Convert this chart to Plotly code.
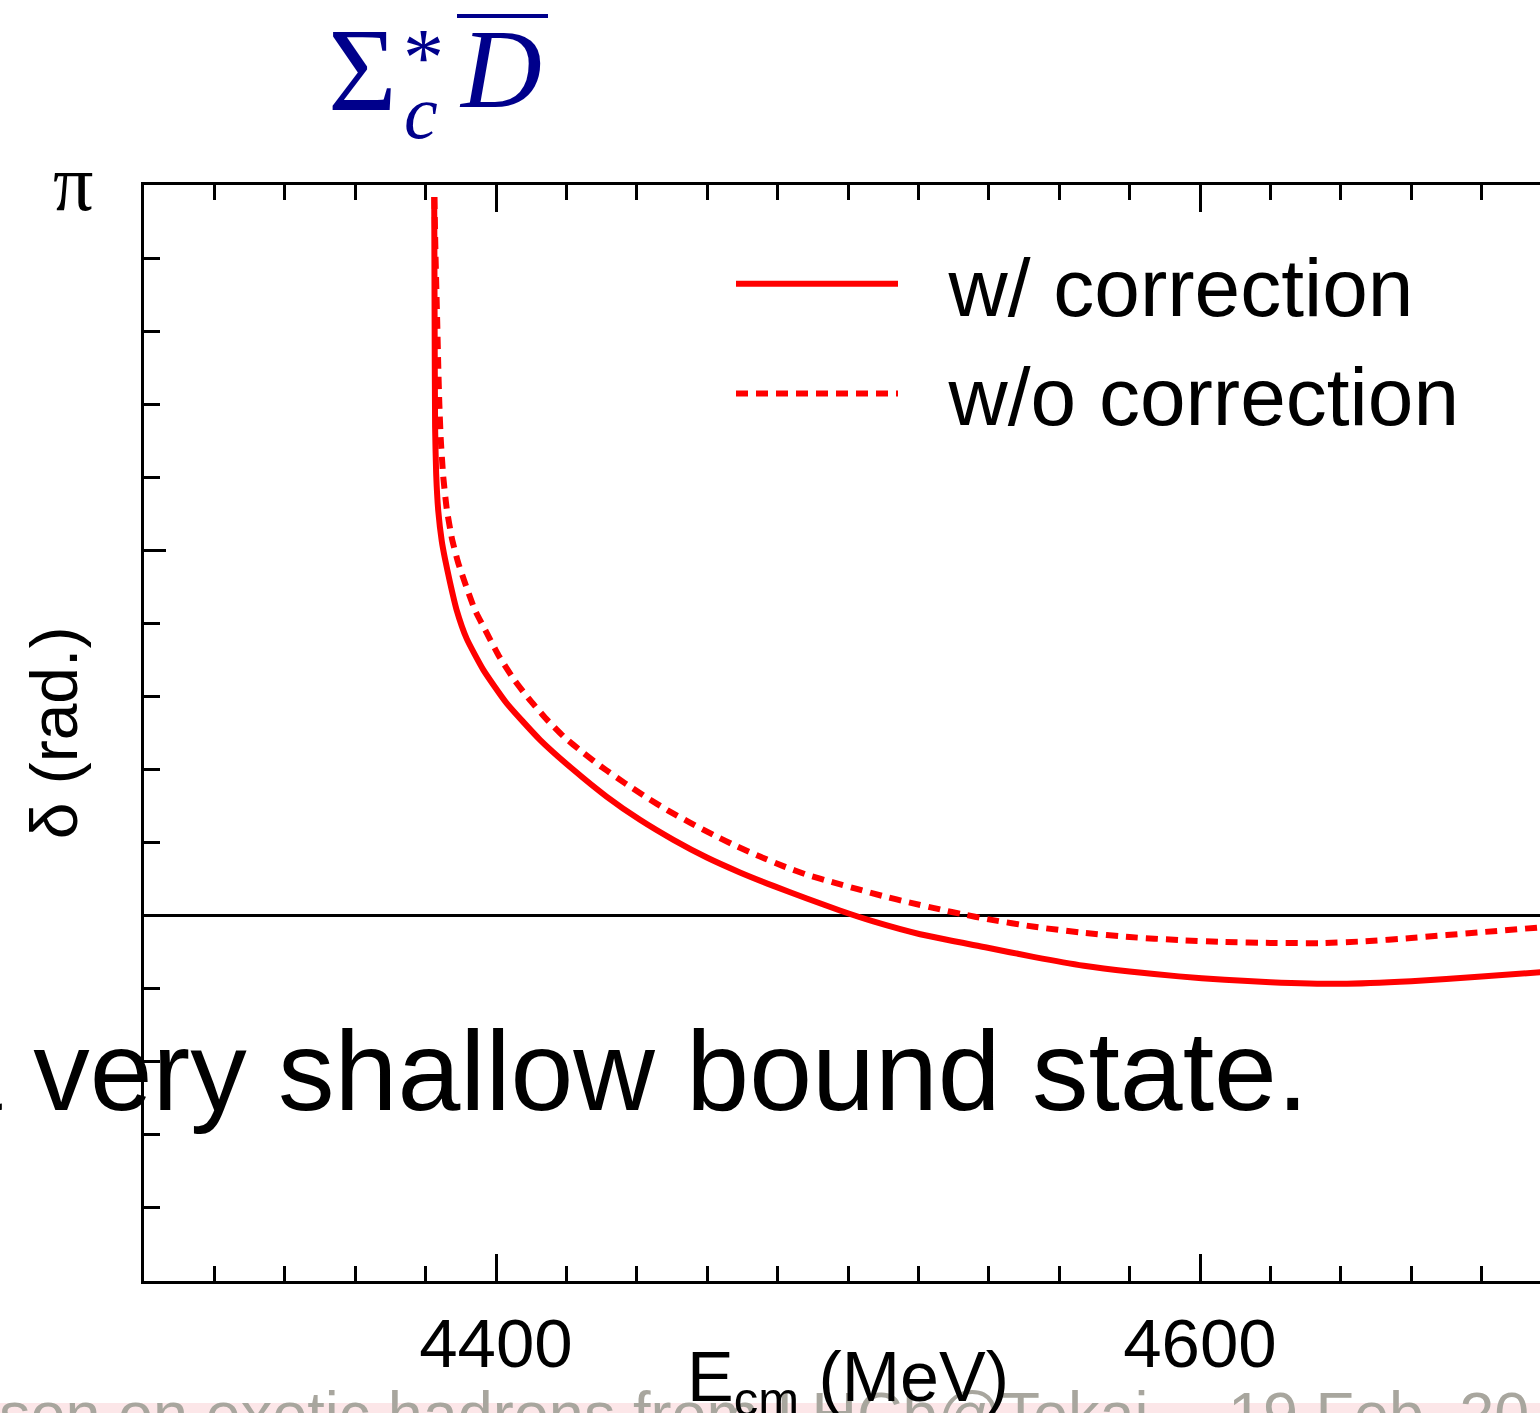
import math
import plotly.graph_objects as go

# ---- data ----
E_with = [4382.45, 4382.55, 4382.7, 4383.0, 4383.6, 4384.6, 4385.5, 4386.9, 4388.8, 4391.7,
          4396.4, 4403.0, 4412.5, 4422.0, 4431.4, 4440.9, 4450.4, 4459.9, 4469.3, 4478.8,
          4488.3, 4497.7, 4507.2, 4520.5, 4539.0, 4553.0, 4567.0, 4580.0, 4594.0, 4607.0,
          4620.0, 4640.0, 4660.0, 4680.0, 4697.0]
delta_with = [3.09, 2.60, 2.10, 1.90, 1.74, 1.61, 1.535, 1.435, 1.315, 1.19,
              1.057, 0.914, 0.756, 0.627, 0.512, 0.412, 0.326, 0.250, 0.186, 0.128,
              0.074, 0.022, -0.025, -0.080, -0.136, -0.178, -0.215, -0.240, -0.261, -0.276,
              -0.286, -0.293, -0.282, -0.262, -0.243]

E_without = [4382.5, 4382.8, 4383.3, 4383.6, 4383.9, 4384.3, 4385.0, 4386.0, 4387.5, 4389.2,
             4391.2, 4394.0, 4397.4, 4400.7, 4404.9, 4409.2, 4413.9, 4419.1, 4424.8, 4430.5,
             4436.6, 4442.8, 4448.9, 4455.1, 4461.7, 4468.4, 4475.0, 4481.6, 4488.3, 4495.8,
             4502.5, 4510.0, 4517.6, 4527.0, 4532.0, 4540.0, 4553.0, 4567.0, 4580.0, 4594.0,
             4607.0, 4620.0, 4634.0, 4647.0, 4660.0, 4680.0, 4697.0]
delta_without = [3.09, 2.85, 2.55, 2.36, 2.20, 2.05, 1.89, 1.75, 1.62, 1.52,
                 1.43, 1.315, 1.215, 1.12, 1.02, 0.935, 0.852, 0.772, 0.700, 0.634,
                 0.570, 0.508, 0.452, 0.400, 0.348, 0.298, 0.254, 0.213, 0.176, 0.143,
                 0.115, 0.084, 0.056, 0.024, 0.008, -0.016, -0.048, -0.074, -0.092, -0.105,
                 -0.113, -0.117, -0.118, -0.110, -0.096, -0.071, -0.050]

series_names = ["w/ correction", "w/o correction"]
x_tickvals = [4400, 4600]
x_ticktext = ["4400", "4600"]
y_tickvals = [0, math.pi / 2, math.pi]

# ---- layout geometry (pixels) ----
W, H = 1540, 1413
L, T, B = 144, 185, 1281
R = W
PW, PH = R - L, B - T
MEV_PER_PX = 1 / 3.52
x_range = [4300, 4300 + PW * MEV_PER_PX]
y_range = [-math.pi / 2, math.pi]


def px_x(x):
    return (x - L) / PW


def px_y(y):
    return (B - y) / PH


RED = "#ff0000"
NAVY = "#00008b"
SANS = "Liberation Sans, Arial, sans-serif"
SERIF = "Liberation Serif, Times New Roman, serif"
FOOT = "#a8a69e"

fig = go.Figure()
fig.add_trace(go.Scatter(x=E_with, y=delta_with, mode="lines",
                         name="&nbsp;&nbsp;" + series_names[0],
                         line=dict(color=RED, width=6, shape="spline", smoothing=0.5)))
fig.add_trace(go.Scatter(x=E_without, y=delta_without, mode="lines",
                         name="&nbsp;&nbsp;" + series_names[1],
                         line=dict(color=RED, width=6, dash="12px,8px", shape="spline", smoothing=0.5)))

fig.update_layout(
    width=W, height=H,
    margin=dict(l=L, r=W - R, t=T, b=H - B, autoexpand=False),
    paper_bgcolor="white", plot_bgcolor="white",
    showlegend=True,
    legend=dict(x=px_x(731), y=px_y(224), xanchor="left", yanchor="top",
                font=dict(family=SANS, size=82, color="black"),
                itemwidth=162, tracegroupgap=0, bgcolor="rgba(0,0,0,0)",
                itemclick=False),
    xaxis=dict(range=x_range, showgrid=False, zeroline=False,
               showline=True, linecolor="black", linewidth=3, mirror="allticks",
               ticks="inside", ticklen=27, tickwidth=2.5, tickcolor="black",
               tickvals=x_tickvals, ticktext=x_ticktext,
               tickfont=dict(family=SANS, size=69, color="black"),
               ticklabelstandoff=0,
               minor=dict(dtick=20, tick0=4300, ticks="inside", ticklen=15,
                          tickwidth=2.5, tickcolor="black", showgrid=False)),
    yaxis=dict(range=y_range, showgrid=False,
               zeroline=True, zerolinecolor="black", zerolinewidth=2.5,
               showline=True, linecolor="black", linewidth=3, mirror=False,
               ticks="inside", ticklen=22, tickwidth=2.5, tickcolor="black",
               tickvals=y_tickvals, showticklabels=False,
               minor=dict(dtick=math.pi / 10, tick0=0, ticks="inside", ticklen=16,
                          tickwidth=2.5, tickcolor="black", showgrid=False),
               title=dict(text="δ (rad.)", standoff=42,
                          font=dict(family=SANS, size=66, color="black"))),
)

# footer strip (slide footer), drawn below the other texts
fig.add_shape(type="rect", xref="paper", yref="paper",
              x0=px_x(0), x1=px_x(W), y0=px_y(1403), y1=px_y(H + 5),
              fillcolor="#fce6e8", line=dict(width=0), layer="below")
fig.add_shape(type="rect", xref="paper", yref="paper", layer="below",
              x0=px_x(-4), x1=px_x(1200), y0=px_y(1372), y1=px_y(1444),
              line=dict(width=0), fillcolor="rgba(0,0,0,0)",
              label=dict(text="son on exotic hadrons from LHCb@Tokai", textposition="middle left",
                         padding=0, font=dict(family=SANS, size=63, color=FOOT)))
fig.add_shape(type="rect", xref="paper", yref="paper", layer="below",
              x0=px_x(1225), x1=px_x(1560), y0=px_y(1372), y1=px_y(1444),
              line=dict(width=0), fillcolor="rgba(0,0,0,0)",
              label=dict(text="19 Feb. 20", textposition="middle left",
                         padding=0, font=dict(family=SANS, size=63, color=FOOT)))

ann = []
# x-axis title (sits partly below the page edge, as in the slide)
ann.append(dict(text="E<sub>cm</sub> (MeV)", x=px_x(848), y=px_y(1382),
                font=dict(family=SANS, size=70, color="black")))
# y-axis end label
ann.append(dict(text="π", x=px_x(73), y=px_y(183), font=dict(family=SERIF, size=80, color="black")))
# title Sigma_c^* D-bar
ann.append(dict(text="Σ", x=px_x(362), y=px_y(70), font=dict(family=SERIF, size=118, color=NAVY)))
ann.append(dict(text="*", x=px_x(423), y=px_y(58), font=dict(family=SERIF, size=82, color=NAVY)))
ann.append(dict(text="<i>c</i>", x=px_x(421), y=px_y(112), font=dict(family=SERIF, size=76, color=NAVY)))
ann.append(dict(text="<i>D</i>", x=px_x(500), y=px_y(69), font=dict(family=SERIF, size=112, color=NAVY)))
# overlaid slide sentence
ann.append(dict(text="a very shallow bound state.", x=px_x(1310), y=px_y(1071), xanchor="right",
                font=dict(family=SANS, size=113, color="black")))
for a in ann:
    a.setdefault("xanchor", "center")
    a.setdefault("yanchor", "middle")
    fig.add_annotation(xref="paper", yref="paper", showarrow=False, **a)

# overline of D-bar
fig.add_shape(type="line", xref="paper", yref="paper",
              x0=px_x(457), x1=px_x(548), y0=px_y(16), y1=px_y(16),
              line=dict(color=NAVY, width=4))

fig.write_html("out.html")
